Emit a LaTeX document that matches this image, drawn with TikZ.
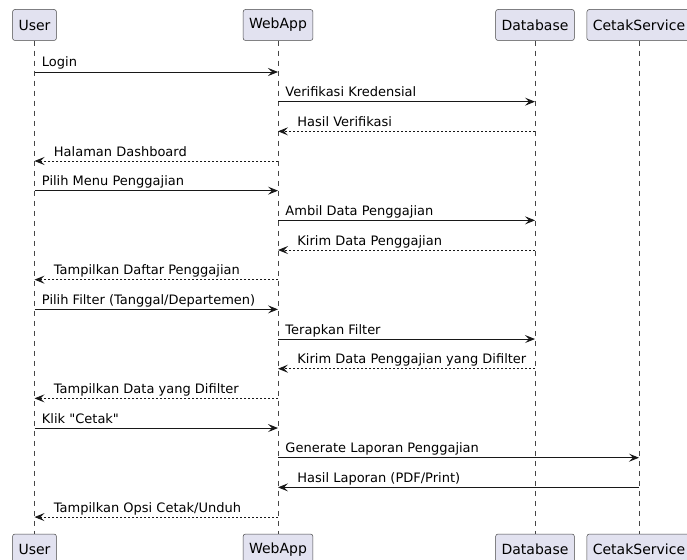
\documentclass[tikz,border=0pt]{standalone}
\usepackage{fontspec}
\setmainfont{DejaVu Sans}[Ligatures=TeXOff]
\usetikzlibrary{arrows.meta}
\definecolor{partfill}{HTML}{E2E2F0}
\definecolor{ink}{HTML}{181818}
\begin{document}
\begin{tikzpicture}[x=1pt,y=-1pt,
  part/.style={draw=ink!80, line width=0.5pt, fill=partfill, rounded corners=2.5pt,
    minimum height=31pt, inner xsep=6pt, inner ysep=0pt,
    font=\fontsize{14}{16}\selectfont, text=black},
  life/.style={draw=ink!80, line width=0.5pt, dash pattern=on 5pt off 5pt},
  sync/.style={draw=ink, line width=0.9pt, -{Stealth[length=10pt,width=8pt,inset=4pt]}},
  reply/.style={sync, dash pattern=on 2pt off 2pt},
  lblr/.style={pos=0, anchor=base west, inner sep=0pt, xshift=7pt, yshift=5pt,
    font=\fontsize{13}{15}\selectfont, text=black},
  lbll/.style={pos=1, anchor=base west, inner sep=0pt, xshift=19pt, yshift=5pt,
    font=\fontsize{13}{15}\selectfont, text=black}
]
\useasboundingbox (0,0) rectangle (687,559);
\fill[white] (0,0) rectangle (687,559);
\clip (0,0) rectangle (687,559);

% participants, top row
\node[part] (uT) at (34.5,25) {User};
\node[part] (wT) at (278,25) {WebApp};
\node[part] (dT) at (535,25) {Database};
\node[part] (cT) at (639,25) {CetakService};
% participants, bottom row
\node[part] (uB) at (34.5,549.5) {User};
\node[part] (wB) at (278,549.5) {WebApp};
\node[part] (dB) at (535,549.5) {Database};
\node[part] (cB) at (639,549.5) {CetakService};

% lifelines
\draw[life] (uT) -- (uB);
\draw[life] (wT) -- (wB);
\draw[life] (dT) -- (dB);
\draw[life] (cT) -- (cB);

% message rows
\foreach \i in {1,...,16}
  \coordinate (y\i) at (0,{72+(\i-1)*29.67});

\draw[sync]  (uT |- y1)  -- (wT |- y1)  node[lblr] {Login};
\draw[sync]  (wT |- y2)  -- (dT |- y2)  node[lblr] {Verifikasi Kredensial};
\draw[reply] (dT |- y3)  -- (wT |- y3)  node[lbll] {Hasil Verifikasi};
\draw[reply] (wT |- y4)  -- (uT |- y4)  node[lbll] {Halaman Dashboard};
\draw[sync]  (uT |- y5)  -- (wT |- y5)  node[lblr] {Pilih Menu Penggajian};
\draw[sync]  (wT |- y6)  -- (dT |- y6)  node[lblr] {Ambil Data Penggajian};
\draw[reply] (dT |- y7)  -- (wT |- y7)  node[lbll] {Kirim Data Penggajian};
\draw[reply] (wT |- y8)  -- (uT |- y8)  node[lbll] {Tampilkan Daftar Penggajian};
\draw[sync]  (uT |- y9)  -- (wT |- y9)  node[lblr] {Pilih Filter (Tanggal/Departemen)};
\draw[sync]  (wT |- y10) -- (dT |- y10) node[lblr] {Terapkan Filter};
\draw[reply] (dT |- y11) -- (wT |- y11) node[lbll] {Kirim Data Penggajian yang Difilter};
\draw[reply] (wT |- y12) -- (uT |- y12) node[lbll] {Tampilkan Data yang Difilter};
\draw[sync]  (uT |- y13) -- (wT |- y13) node[lblr] {Klik "Cetak"};
\draw[sync]  (wT |- y14) -- (cT |- y14) node[lblr] {Generate Laporan Penggajian};
\draw[sync]  (cT |- y15) -- (wT |- y15) node[lbll] {Hasil Laporan (PDF/Print)};
\draw[reply] (wT |- y16) -- (uT |- y16) node[lbll] {Tampilkan Opsi Cetak/Unduh};
\end{tikzpicture}
\end{document}
